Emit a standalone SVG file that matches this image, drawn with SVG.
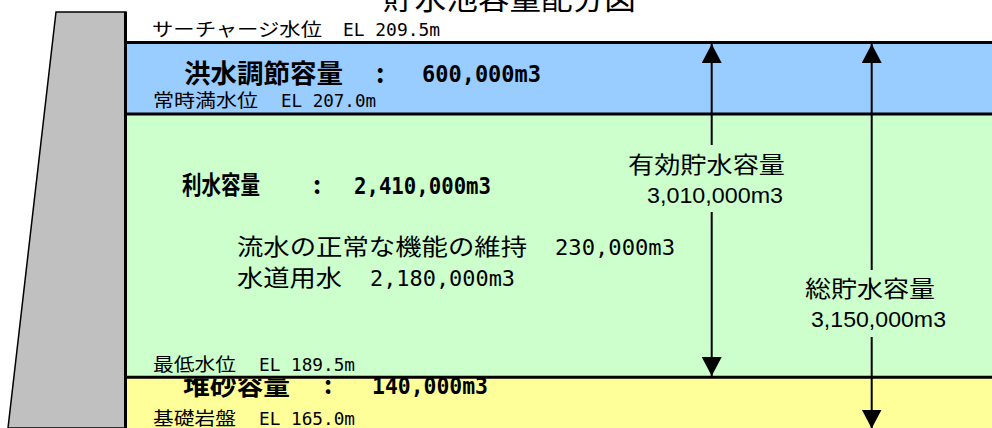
<svg xmlns="http://www.w3.org/2000/svg" width="992" height="428" viewBox="0 0 992 428">
<defs>
<style>
.jp{font-family:"Noto Sans CJK JP","Noto Sans",sans-serif;fill:#000}
.mo{font-family:"DejaVu Sans Mono","Liberation Mono",monospace;fill:#000}
.ar{font-family:"Liberation Sans","Noto Sans CJK JP",sans-serif;fill:#000}
.b{font-weight:bold}
.bd{stroke:#000;stroke-width:3;fill:none}
.shaft{stroke:#000;stroke-width:2;fill:none}
</style>
<marker id="ah" markerUnits="userSpaceOnUse" markerWidth="19" markerHeight="20" refX="19" refY="10" orient="auto-start-reverse" viewBox="0 0 19 20">
<path d="M0,0 L19,10 L0,20 Z" fill="#000"/>
</marker>
<clipPath id="yel"><rect x="126" y="378.5" width="866" height="50"/></clipPath>
</defs>
<rect width="992" height="428" fill="#fff"/>
<g id="title">
<text class="jp" x="383" y="9" font-size="30" textLength="253" lengthAdjust="spacingAndGlyphs">貯水池容量配分図</text>
</g>
<g id="bands">
<rect x="126" y="42" width="866" height="72" fill="#99CCFF"/>
<rect x="126" y="114" width="866" height="263" fill="#CCFFCC"/>
<rect x="126" y="377" width="866" height="51" fill="#FFFF99"/>
</g>
<g id="dam">
<path d="M56,12 L126,12 L126,428 L8,428 Z" fill="#C0C0C0" stroke="#000" stroke-width="1.5"/>
<line x1="125.5" y1="12" x2="125.5" y2="428" stroke="#000" stroke-width="3"/>
</g>
<g id="flood">
<text class="jp" x="152" y="36" font-size="18" textLength="170" lengthAdjust="spacingAndGlyphs">サーチャージ水位</text>
<text class="mo" x="343" y="36" font-size="18" textLength="97" lengthAdjust="spacingAndGlyphs">EL 209.5m</text>
<text class="jp b" x="184" y="83" font-size="26" textLength="159" lengthAdjust="spacingAndGlyphs">洪水調節容量</text>
<text class="jp b" x="376" y="83" font-size="26">:</text>
<text class="mo b" x="422" y="82" font-size="23" textLength="119" lengthAdjust="spacingAndGlyphs">600,000m3</text>
<text class="jp" x="153" y="107" font-size="18" textLength="105" lengthAdjust="spacingAndGlyphs">常時満水位</text>
<text class="mo" x="281" y="107" font-size="18" textLength="95" lengthAdjust="spacingAndGlyphs">EL 207.0m</text>
</g>
<g id="utility">
<text class="jp b" x="182" y="194" font-size="25" textLength="78" lengthAdjust="spacingAndGlyphs">利水容量</text>
<text class="jp b" x="313" y="194" font-size="25">:</text>
<text class="mo b" x="354" y="194" font-size="23" textLength="137" lengthAdjust="spacingAndGlyphs">2,410,000m3</text>
<text class="jp" x="237" y="255" font-size="23" textLength="290" lengthAdjust="spacingAndGlyphs">流水の正常な機能の維持</text>
<text class="mo" x="555" y="255" font-size="22" textLength="120" lengthAdjust="spacingAndGlyphs">230,000m3</text>
<text class="jp" x="237" y="286" font-size="23" textLength="105" lengthAdjust="spacingAndGlyphs">水道用水</text>
<text class="mo" x="370" y="286" font-size="22" textLength="145" lengthAdjust="spacingAndGlyphs">2,180,000m3</text>
<text class="jp" x="153" y="371" font-size="18" textLength="83" lengthAdjust="spacingAndGlyphs">最低水位</text>
<text class="mo" x="259" y="371" font-size="18" textLength="96" lengthAdjust="spacingAndGlyphs">EL 189.5m</text>
</g>
<g id="sediment">
<g clip-path="url(#yel)">
<text class="jp b" x="183" y="395" font-size="25" textLength="107" lengthAdjust="spacingAndGlyphs">堆砂容量</text>
</g>
<text class="jp b" x="324" y="394" font-size="25">:</text>
<text class="mo b" x="372" y="394" font-size="23" textLength="116" lengthAdjust="spacingAndGlyphs">140,000m3</text>
<text class="jp" x="153" y="424.5" font-size="18" textLength="83" lengthAdjust="spacingAndGlyphs">基礎岩盤</text>
<text class="mo" x="259" y="424.5" font-size="18" textLength="96" lengthAdjust="spacingAndGlyphs">EL 165.0m</text>
</g>
<g id="levels">
<line class="bd" x1="126" y1="42.5" x2="992" y2="42.5"/>
<line class="bd" x1="126" y1="114" x2="992" y2="114"/>
<line class="bd" x1="126" y1="377.3" x2="992" y2="377.3"/>
</g>
<g id="effective-label">
<text class="jp" x="628" y="173" font-size="23" textLength="157" lengthAdjust="spacingAndGlyphs">有効貯水容量</text>
<text class="ar" x="647" y="203" font-size="22" textLength="136" lengthAdjust="spacingAndGlyphs">3,010,000m3</text>
</g>
<g id="total-label">
<text class="jp" x="805" y="296.5" font-size="23" textLength="130" lengthAdjust="spacingAndGlyphs">総貯水容量</text>
<text class="ar" x="811" y="326.5" font-size="22" textLength="135" lengthAdjust="spacingAndGlyphs">3,150,000m3</text>
</g>
<g id="connectors">
<path class="shaft" d="M711.7,44 L711.7,145" marker-start="url(#ah)"/>
<path class="shaft" d="M711.7,212 L711.7,376" marker-end="url(#ah)"/>
<path class="shaft" d="M871.7,44 L871.7,270" marker-start="url(#ah)"/>
<path class="shaft" d="M871.7,337 L871.7,428.5" marker-end="url(#ah)"/>
</g>
</svg>
